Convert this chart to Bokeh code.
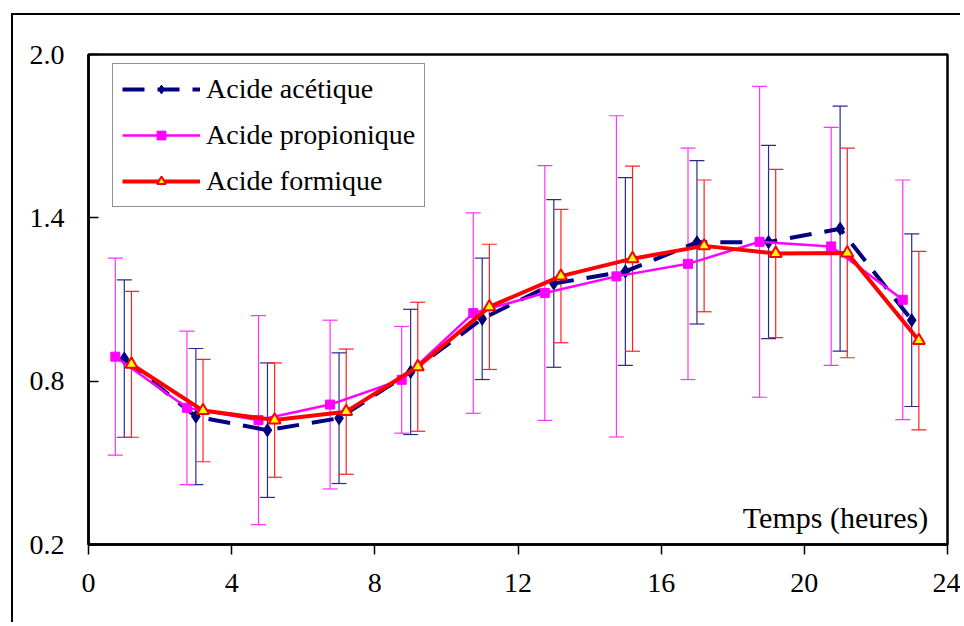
from bokeh.plotting import figure
from bokeh.models import (Range1d, FixedTicker, Whisker, TeeHead, ColumnDataSource,
                          Legend, LegendItem, Label, NumeralTickFormatter)
from bokeh.embed import file_html
from bokeh.resources import INLINE

# ---------------- data ----------------
hours_acetic = [1, 3, 5, 7, 9, 11, 13, 15, 17, 19, 21, 23]
hours_propionic = [0.75, 2.75, 4.75, 6.75, 8.75, 10.75, 12.75, 14.75, 16.75, 18.75, 20.75, 22.75]
hours_formic = [1.2, 3.2, 5.2, 7.2, 9.2, 11.2, 13.2, 15.2, 17.2, 19.2, 21.2, 23.2]

acetic = [0.883, 0.670, 0.620, 0.664, 0.834, 1.029, 1.159, 1.203, 1.310, 1.311, 1.360, 1.024]
acetic_err = [0.289, 0.250, 0.247, 0.240, 0.230, 0.223, 0.308, 0.345, 0.300, 0.355, 0.450, 0.317]

propionic = [0.890, 0.702, 0.657, 0.714, 0.805, 1.050, 1.124, 1.185, 1.231, 1.312, 1.295, 1.099]
propionic_err = [0.362, 0.282, 0.384, 0.310, 0.196, 0.368, 0.468, 0.590, 0.425, 0.571, 0.437, 0.440]

formic = [0.862, 0.692, 0.657, 0.688, 0.853, 1.073, 1.186, 1.250, 1.297, 1.269, 1.271, 0.949]
formic_err = [0.268, 0.188, 0.210, 0.230, 0.237, 0.230, 0.245, 0.340, 0.242, 0.309, 0.385, 0.328]

x_ticks = [0, 4, 8, 12, 16, 20, 24]
y_ticks = [0.2, 0.8, 1.4, 2.0]

names = ["Acide acétique", "Acide propionique", "Acide formique"]
x_label = "Temps (heures)"

FONT = "Liberation Serif"

p = figure(width=960, height=622, output_backend="svg", toolbar_location=None,
           x_range=Range1d(0, 24), y_range=Range1d(0.2, 2.0),
           min_border_left=88, min_border_right=13, min_border_top=54, min_border_bottom=78)

p.background_fill_color = "white"
p.border_fill_color = None
p.outline_line_color = "black"
p.outline_line_width = 2.5
p.xgrid.visible = False
p.ygrid.visible = False

# outer frame of the chart object: top and left edges (the rest lies outside the window)
p.styles = {
    "background-image": "linear-gradient(#000, #000), linear-gradient(#000, #000)",
    "background-position": "12px 13px, 11px 13px",
    "background-size": "100% 2px, 2px 100%",
    "background-repeat": "no-repeat",
}

# axes
p.xaxis.ticker = FixedTicker(ticks=x_ticks)
p.yaxis.ticker = FixedTicker(ticks=y_ticks)
p.yaxis.formatter = NumeralTickFormatter(format="0.0")
for ax in (p.xaxis[0], p.yaxis[0]):
    ax.axis_line_color = "black"
    ax.axis_line_width = 2.5
    ax.major_tick_line_color = "black"
    ax.major_tick_line_width = 1.5
    ax.minor_tick_line_color = None
    ax.major_label_text_font = FONT
    ax.major_label_text_font_size = "28px"
    ax.major_label_text_color = "black"
p.xaxis.major_tick_in = 0
p.xaxis.major_tick_out = 10
p.xaxis.major_label_standoff = 19
p.yaxis.major_tick_in = 10
p.yaxis.major_tick_out = 0
p.yaxis.major_label_standoff = 24


def add_series(xs, ys, errs, color, bar_color, line_width, dash, marker, msize, mfill, mline, mlw):
    src = ColumnDataSource(dict(x=xs, y=ys,
                                upper=[a + b for a, b in zip(ys, errs)],
                                lower=[a - b for a, b in zip(ys, errs)]))
    w = Whisker(source=src, base="x", upper="upper", lower="lower", dimension="height",
                line_color=bar_color, line_width=1.2,
                upper_head=TeeHead(size=15, line_color=bar_color, line_width=1.2),
                lower_head=TeeHead(size=15, line_color=bar_color, line_width=1.2),
                level="underlay")
    p.add_layout(w)
    ln = p.line("x", "y", source=src, line_color=color, line_width=line_width, line_dash=dash)
    sc = p.scatter("x", "y", source=src, marker=marker, size=msize, fill_color=mfill,
                   line_color=mline, line_width=mlw)
    return [ln, sc]


r_ac = add_series(hours_acetic, acetic, acetic_err, "#000080", "#2a2a8c", 4, "22 13",
                  "diamond", 13, "#000080", "#000080", 1)
r_pr = add_series(hours_propionic, propionic, propionic_err, "#FF00FF", "#FF33FF", 2.5, "solid",
                  "square", 9, "#FF00FF", "#FF00FF", 1)
r_fo = add_series(hours_formic, formic, formic_err, "#FF0000", "#FF2020", 4, "solid",
                  "triangle", 12, "#FFFF00", "#FF0000", 2)

legend = Legend(items=[LegendItem(label=names[0], renderers=r_ac),
                       LegendItem(label=names[1], renderers=r_pr),
                       LegendItem(label=names[2], renderers=r_fo)],
                location=(24, 337), orientation="vertical",
                glyph_width=78, glyph_height=22, label_height=32,
                label_standoff=6, spacing=14, padding=9,
                label_text_font=FONT, label_text_font_size="28px", label_text_color="black",
                border_line_color="#222222", border_line_width=1.5,
                background_fill_color="white", background_fill_alpha=1.0)
p.add_layout(legend, "center")

lbl = Label(x=23.46, y=0.299, text=x_label, text_align="right", text_baseline="alphabetic",
            text_font=FONT, text_font_size="30px", text_color="black")
p.add_layout(lbl)

open("out.html", "w").write(file_html(p, INLINE))
